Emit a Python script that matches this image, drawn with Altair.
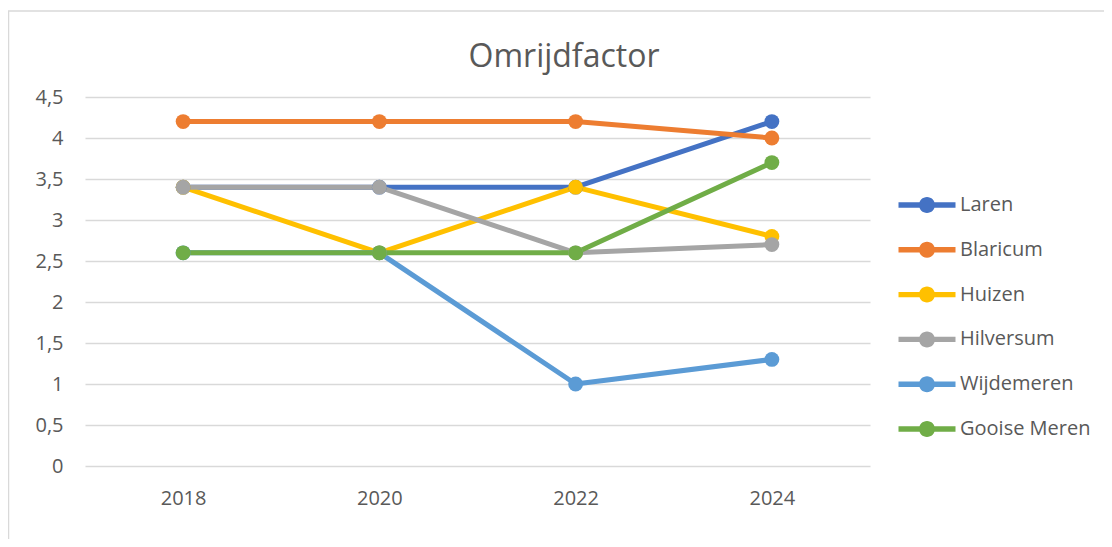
import altair as alt
import pandas as pd

years = ["2018", "2020", "2022", "2024"]
series = ["Laren", "Blaricum", "Huizen", "Hilversum", "Wijdemeren", "Gooise Meren"]
colors = ["#4472C4", "#ED7D31", "#FFC000", "#A5A5A5", "#5B9BD5", "#70AD47"]

laren = [3.4, 3.4, 3.4, 4.2]
blaricum = [4.2, 4.2, 4.2, 4.0]
huizen = [3.4, 2.6, 3.4, 2.8]
hilversum = [3.4, 3.4, 2.6, 2.7]
wijdemeren = [2.6, 2.6, 1.0, 1.3]
gooise_meren = [2.6, 2.6, 2.6, 3.7]

y_ticks = [0, 0.5, 1, 1.5, 2, 2.5, 3, 3.5, 4, 4.5]
title_text = "Omrijdfactor"

values = [laren, blaricum, huizen, hilversum, wijdemeren, gooise_meren]
rows = []
for i, (name, vals) in enumerate(zip(series, values)):
    for y, v in zip(years, vals):
        rows.append({"jaar": y, "gemeente": name, "waarde": v, "order": i})
df = pd.DataFrame(rows)

FONT = "Open Sans"
TXT = "#595959"
GRID = "#d9d9d9"

sym = ("M-2.85,-0.27 H2.85 V0.27 H-2.85 Z "
       "M0.8,0 A0.8,0.8 0 1 1 -0.8,0 A0.8,0.8 0 1 1 0.8,0 Z")

x_enc = alt.X("jaar:O", scale=alt.Scale(type="point", padding=0.5, domain=years),
              axis=alt.Axis(title=None, labelAngle=0, domain=False, ticks=False,
                            grid=False, labelPadding=22, labelFontSize=20,
                            labelFont=FONT, labelColor=TXT))
y_enc = alt.Y("waarde:Q", scale=alt.Scale(domain=[0, 4.5], nice=False),
              axis=alt.Axis(title=None, values=y_ticks, domain=False, ticks=False,
                            gridColor=GRID, gridWidth=1.3, labelPadding=22,
                            labelFontSize=20, labelFont=FONT, labelColor=TXT,
                            labelExpr="replace(toString(datum.value), '.', ',')"))

color_scale = alt.Scale(domain=series, range=colors)
legend = alt.Legend(title=None, orient="none", legendX=832, legendY=98,
                    padding=0, rowPadding=24.8, labelOffset=23,
                    symbolType=sym, symbolSize=400, symbolStrokeWidth=0,
                    labelFontSize=20, labelFont=FONT, labelColor=TXT)
color_enc = alt.Color("gemeente:N", scale=color_scale, sort=series, legend=legend)

base = alt.Chart(df)

lines = base.mark_line(strokeWidth=5, strokeJoin="round", strokeCap="round").encode(
    x=x_enc, y=y_enc, color=color_enc, order=alt.Order("order:Q"),
)

points = base.mark_point(filled=True, size=220, opacity=1).encode(
    x=x_enc, y=y_enc, color=color_enc, order=alt.Order("order:Q"),
)

one = pd.DataFrame({"a": [0]})
border_left = alt.Chart(one).mark_rule(color=GRID, strokeWidth=1.5).encode(
    x=alt.value(-76.5), y=alt.value(-86), y2=alt.value(460))
border_top = alt.Chart(one).mark_rule(color=GRID, strokeWidth=1.5).encode(
    x=alt.value(-77), x2=alt.value(1040), y=alt.value(-86))
title = alt.Chart(one).mark_text(text=title_text, font=FONT, fontSize=32, color=TXT,
                                 align="center", baseline="alphabetic").encode(
    x=alt.value(479), y=alt.value(-30))

chart = alt.layer(border_left, border_top, title, lines, points).properties(
    width=785, height=369,
    autosize=alt.AutoSizeParams(type="none"),
    padding={"left": 77, "top": 89, "right": 234, "bottom": 73},
).configure(background="white").configure_view(stroke=None)

chart.save("out.html", embed_options={"renderer": "svg", "actions": False})
